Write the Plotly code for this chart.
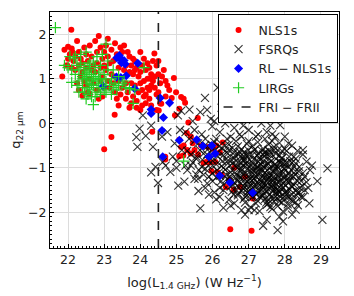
import plotly.graph_objects as go

# ---- data ----
nls1_points = [
    (21.84,1.05),(21.9,1.65),(21.95,1.3),(22.0,1.72),(22.05,1.55),(22.1,1.68),(22.15,1.4),(22.0,1.45),(22.1,1.25),(22.2,1.2),
    (22.09,2.1),(22.2,1.5),(21.98,1.3),(22.12,1.6),
    (22.25,1.85),(22.3,1.6),(22.35,1.45),(22.3,1.3),(22.4,1.15),(22.25,0.9),(22.3,0.75),(22.4,0.62),(22.45,1.7),(22.5,1.55),
    (22.55,1.4),(22.5,1.25),(22.6,1.0),(22.45,0.95),(22.55,0.7),(22.6,1.75),(22.35,1.05),(22.5,0.85),(22.6,0.65),(22.4,1.35),
    (22.65,1.5),(22.7,1.3),(22.75,1.15),(22.8,1.6),(22.85,1.96),(22.9,1.7),(22.95,1.45),(22.7,0.9),(22.8,0.75),(22.85,0.55),
    (22.9,1.25),(22.95,1.05),(23.0,0.8),(22.75,1.85),(23.0,1.6),(22.65,1.2),(22.9,0.95),(22.8,1.35),(23.0,1.3),(22.95,0.6),
    (23.05,1.75),(23.1,1.5),(23.15,1.35),(23.2,1.1),(23.25,0.9),(23.1,0.95),(23.3,0.7),(23.35,0.55),(23.2,1.65),(23.3,1.8),
    (23.35,1.55),(23.4,1.25),(23.05,1.2),(23.15,0.8),(23.4,0.95),(23.25,1.4),(23.3,1.05),(23.4,0.4),(23.29,0.19),(23.2,-0.31),
    (23.0,-0.58),(23.1,1.9),
    (23.45,1.7),(23.5,1.6),(23.55,1.2),(23.6,0.9),(23.65,0.7),(23.7,1.5),(23.75,1.3),(23.8,1.1),(23.5,0.8),(23.6,0.55),
    (23.7,0.35),(23.75,0.9),(23.8,0.6),(23.55,1.75),(23.65,1.6),(23.45,0.65),(23.8,1.45),(23.7,1.15),(23.6,1.3),(23.75,0.45),
    (23.85,1.4),(23.9,1.25),(23.95,1.05),(24.0,0.9),(24.05,0.75),(24.1,0.6),(24.15,0.45),(23.9,0.5),(24.0,0.3),(24.1,1.45),
    (24.15,1.2),(24.2,1.0),(23.85,0.85),(23.95,0.7),(24.05,1.3),(24.2,0.8),(24.0,1.6),(24.1,0.95),(24.2,1.35),(23.9,0.35),
    (24.15,0.65),(24.05,0.4),(23.85,1.2),(24.0,1.15),
    (24.25,1.25),(24.3,1.1),(24.35,0.95),(24.4,0.8),(24.45,0.65),(24.25,0.55),(24.3,0.4),(24.39,1.57),(24.45,1.3),(24.5,1.1),
    (24.55,0.9),(24.25,0.75),(24.35,1.4),(24.4,1.05),(24.5,0.7),(24.55,0.45),(24.3,0.85),(24.45,0.3),(24.33,-0.19),(24.5,1.4),
    (24.6,1.05),(24.28,1.0),
    (24.65,1.2),(24.7,0.95),(24.75,0.85),(24.87,0.57),(24.99,0.7),(24.93,1.02),(25.13,0.59),(25.24,0.46),(25.08,0.33),(24.96,0.18),
    (24.58,0.44),(24.51,0.29),(24.8,0.75),(24.7,0.6),(25.2,0.55),
    (25.59,0.12),(25.33,0.02),(25.08,-0.37),(25.29,-0.22),(25.13,-0.53),(25.2,-0.5),(25.39,-0.68),(25.5,-0.6),(25.68,-0.5),(25.87,-0.53),
    (26.0,-0.57),(26.1,-0.5),(26.28,-0.43),(25.08,-0.74),(25.19,-0.72),(24.69,-0.81),(24.69,-0.75),(25.75,-0.89),(25.82,-0.87),(25.93,-0.88),
    (26.08,-0.87),(25.97,-1.07),(26.14,-1.1),(26.26,-1.16),(26.37,-1.43),(26.46,-1.28),(26.58,-1.49),(26.76,-1.43),(27.11,-1.69),(26.49,-2.38),
    (27.08,-2.41),(25.45,-0.45),(25.6,-0.7),(25.3,-0.6),(26.2,-0.65),(25.4,-0.3),(26.6,-1.0),(26.9,-1.2),
]

fsrq_points = [
    (26.14,0.80),(25.79,0.57),(26.25,0.35),(25.66,0.25),(25.36,0.31),(25.13,0.28),(25.04,0.18),(26.56,0.51),(26.74,0.22),(26.33,0.37),
    (26.45,0.12),(26.9,0.18),(27.1,0.12),(26.05,0.05),(25.85,0.3),(26.6,0.28),
    (24.07,0.18),(23.98,-0.12),(24.3,-0.05),(23.89,-0.31),(24.15,-0.28),(24.35,-0.53),(23.92,-0.53),(24.42,-0.98),(24.49,-1.34),(24.62,-0.87),
    (24.83,-1.09),(25.22,-1.31),(25.61,-1.52),(25.66,-1.91),(26.1,-1.71),(26.53,-1.54),(27.0,-1.95),(27.16,-1.95),(27.5,-2.17),(27.8,-2.4),
    (27.85,-2.1),(28.36,-1.84),(28.68,-1.8),(29.04,-2.17),(29.18,-1.01),(27.87,-0.04),(27.74,-0.3),(27.26,-0.25),(26.93,0.08),(25.99,-0.07),
    (24.6,-0.3),(24.75,-0.2),(24.9,-0.75),(24.7,-0.95),(25.0,-1.0),(24.95,-0.45),(25.1,-0.15),(25.25,-0.2),(25.5,-0.15),(25.7,-0.25),
    (25.35,-0.35),(26.2,-0.2),(26.6,-0.1),(26.8,-0.3),(27.0,-0.15),(27.5,-0.2),(28.1,-0.45),(26.4,-0.35),(28.0,-0.3),(28.3,-0.9),
    (28.55,-1.2),(28.65,-1.45),(28.45,-1.65),(28.2,-2.05),(26.9,-2.05),(27.4,-2.3),(26.3,-1.9),(25.9,-1.6),(25.5,-1.25),(25.4,-0.95),
    (25.75,-1.15),(24.3,-1.1),(25.05,-1.4),(26.6,-1.8),(28.75,-0.95),(28.9,-1.3),(28.5,-0.6),(27.95,-2.2),(26.0,-1.3),(25.55,-0.8),
    (25.6,-0.45),(25.85,-0.52),(26.05,-0.42),(26.25,-0.55),(26.45,-0.48),(26.65,-0.4),(26.8,-0.58),(26.95,-0.46),(27.1,-0.52),(27.25,-0.42),
    (27.4,-0.57),(27.55,-0.47),(27.7,-0.53),(27.85,-0.44),(28.0,-0.58),(28.2,-0.5),(28.35,-0.62),
    (25.3,-0.62),(25.55,-0.75),(25.75,-0.68),(25.95,-0.8),(26.15,-0.66),(26.3,-0.72),(26.45,-0.6),(26.6,-0.78),(26.75,-0.64),(26.85,-0.74),
    (27.0,-0.7),(27.15,-0.6),(27.3,-0.77),(27.45,-0.65),(27.6,-0.72),(27.75,-0.68),(27.9,-0.79),(28.05,-0.62),(28.25,-0.75),(28.5,-0.7),
    (25.0,-0.85),(25.25,-0.95),(25.45,-0.88),(25.7,-0.98),(25.9,-0.84),(26.1,-0.92),(26.25,-0.96),(26.4,-0.86),(26.55,-0.9),(26.7,-0.99),
    (26.85,-0.83),(26.95,-0.94),(27.1,-0.88),(27.25,-0.97),(27.4,-0.85),(27.55,-0.91),(27.7,-0.95),(27.85,-0.87),(28.0,-0.93),(28.2,-0.89),
    (28.4,-0.98),(28.6,-0.86),
    (25.3,-1.05),(25.55,-1.15),(25.8,-1.02),(26.0,-1.12),(26.2,-1.18),(26.35,-1.04),(26.5,-1.1),(26.65,-1.16),(26.8,-1.01),(26.9,-1.13),
    (27.05,-1.07),(27.2,-1.19),(27.3,-1.03),(27.45,-1.11),(27.6,-1.17),(27.7,-1.06),(27.85,-1.14),(28.0,-1.02),(28.15,-1.19),(28.3,-1.08),
    (28.5,-1.12),(28.7,-1.05),
    (25.6,-1.25),(25.85,-1.35),(26.1,-1.22),(26.3,-1.38),(26.45,-1.27),(26.6,-1.33),(26.75,-1.21),(26.9,-1.36),(27.0,-1.28),(27.15,-1.24),
    (27.3,-1.39),(27.4,-1.3),(27.55,-1.23),(27.65,-1.37),(27.8,-1.26),(27.95,-1.34),(28.1,-1.29),(28.25,-1.38),(28.4,-1.22),(28.6,-1.32),
    (25.8,-1.45),(26.05,-1.55),(26.3,-1.5),(26.5,-1.42),(26.7,-1.58),(26.85,-1.47),(27.0,-1.53),(27.15,-1.41),(27.25,-1.57),(27.4,-1.46),
    (27.5,-1.52),(27.65,-1.44),(27.8,-1.59),(27.9,-1.48),(28.05,-1.54),(28.2,-1.43),(28.35,-1.56),(28.55,-1.5),
    (26.2,-1.65),(26.45,-1.72),(26.7,-1.62),(26.9,-1.78),(27.1,-1.66),(27.25,-1.74),(27.4,-1.63),(27.55,-1.79),(27.7,-1.68),(27.85,-1.75),
    (28.0,-1.64),(28.15,-1.71),(28.3,-1.77),(28.5,-1.66),
    (26.5,-1.85),(26.8,-1.95),(27.05,-1.88),(27.3,-1.97),(27.5,-1.83),(27.65,-1.92),(27.8,-1.86),(27.95,-1.98),(28.1,-1.9),(28.3,-1.94),
    (26.55,-0.55),(26.72,-0.7),(26.88,-0.65),(27.03,-0.82),(27.18,-0.58),(27.35,-0.92),(27.5,-0.68),(27.62,-0.85),(27.8,-0.6),(27.95,-0.9),
    (28.12,-0.75),(26.38,-0.8),(26.62,-0.95),(26.78,-1.08),(26.92,-0.9),(27.08,-1.15),(27.22,-1.0),(27.37,-1.2),(27.52,-1.05),(27.68,-1.28),
    (27.82,-1.0),(27.98,-1.22),(28.18,-1.05),(28.35,-1.3),(26.48,-1.2),(26.68,-1.4),(26.82,-1.25),(26.98,-1.45),(27.12,-1.32),(27.28,-1.5),
    (27.42,-1.36),(27.58,-1.6),(27.73,-1.42),(27.88,-1.65),(28.02,-1.4),(28.2,-1.6),(26.58,-1.6),(26.95,-1.62),(27.2,-1.8),(27.45,-1.7),
    (27.6,-1.88),(27.92,-1.78),(28.08,-1.82),(28.42,-1.45),(28.28,-1.15),(26.3,-1.0),(26.15,-0.75),(26.0,-0.95),(25.9,-1.2),(26.2,-1.45),
    (26.83,-0.78),(26.97,-1.02),(27.06,-0.95),(27.14,-1.25),(27.26,-0.86),(27.33,-1.12),(27.41,-0.98),(27.48,-1.38),(27.57,-0.8),(27.63,-1.18),
    (27.72,-0.92),(27.78,-1.48),(27.87,-1.1),(27.93,-0.78),(27.01,-1.35),(27.17,-1.55),(27.29,-1.27),(27.36,-1.62),(27.53,-1.25),(27.67,-1.52),
    (27.84,-1.32),(28.06,-1.18),(28.13,-1.48),(26.87,-1.42),(26.73,-1.18),(26.65,-0.85),(27.44,-0.75),(27.97,-1.02),(28.25,-0.98),(27.09,-0.72),
    (25.15,-0.6),(25.4,-0.7),(25.65,-0.6),(25.85,-0.7),(26.05,-0.62),(26.35,-0.5),(25.5,-0.4),(25.8,-0.35),(26.1,-0.35),(26.5,-0.3),
    (26.75,-0.25),(27.2,-0.3),(27.45,-0.35),(27.65,-0.25),(27.35,0.0),(26.35,0.0),(26.85,-0.05),(27.6,-0.05),(25.95,0.1),(25.45,0.05),
    (26.6,-0.65),(26.78,-0.88),(26.93,-0.72),(27.12,-1.05),(27.27,-0.68),(27.38,-1.05),(27.52,-0.9),(27.66,-1.08),(27.76,-0.8),(27.9,-1.25),
    (28.05,-0.88),(28.15,-1.3),(27.0,-1.18),(27.2,-1.4),(27.35,-1.48),(27.5,-1.15),(27.62,-1.42),(27.75,-1.58),(27.9,-1.4),(28.0,-1.55),
    (27.1,-1.48),(26.95,-1.3),(26.8,-1.52),(27.55,-1.72),(27.7,-1.75),(27.3,-1.65),(28.1,-1.65),(28.3,-1.5),(28.45,-1.3),(26.7,-1.3),
    (26.55,-1.05),(26.4,-1.25),(27.45,-1.22),(27.65,-1.3),(27.82,-1.2),(27.25,-1.12),(27.05,-1.6),(27.15,-0.8),(27.4,-0.7),(27.85,-0.72),
    (28.3,-0.8),(28.1,-1.12),(27.58,-1.0),(27.95,-1.12),(26.85,-1.15),(27.5,-1.45),(27.75,-1.35),(27.3,-0.95),(27.7,-0.6),(26.9,-1.65),
    (26.62,-0.72),(26.7,-0.52),(26.76,-1.0),(26.84,-0.95),(26.9,-0.82),(26.99,-0.6),(27.04,-1.25),(27.13,-0.98),(27.19,-1.12),(27.24,-1.32),
    (27.31,-0.82),(27.39,-1.4),(27.46,-0.95),(27.54,-1.33),(27.6,-0.65),(27.69,-1.2),(27.74,-1.02),(27.81,-1.52),(27.89,-0.88),(27.96,-1.45),
    (28.04,-1.28),(28.11,-0.98),(28.18,-1.4),(28.24,-1.2),(28.32,-1.62),(28.39,-1.08),(26.66,-1.5),(26.79,-1.35),(26.86,-1.7),(26.96,-1.55),
    (27.07,-1.4),(27.21,-1.6),(27.34,-1.3),(27.43,-1.58),(27.49,-1.78),(27.61,-1.65),(27.71,-1.48),(27.79,-1.68),(27.86,-1.55),(27.99,-1.7),
    (28.07,-1.58),(28.22,-1.75),(28.4,-1.55),(28.48,-1.4),(27.23,-0.72),(27.37,-0.62),(27.55,-0.6),(27.78,-0.95),(27.92,-0.62),(28.15,-0.85),
    (26.52,-0.82),(26.42,-0.68),(26.27,-0.85),(26.12,-1.05),(26.38,-1.15),(26.56,-1.38),(26.24,-1.3),(26.04,-0.8),(25.93,-0.65),(25.72,-0.82),
    (25.62,-1.05),(25.88,-0.95),(26.48,-0.95),(26.64,-1.22),(26.35,-0.62),(26.18,-0.52),(25.98,-0.48),(25.78,-0.5),(27.0,-0.4),(27.65,-0.4),
]

rl_nls1_points = [
    (23.35,1.47),(23.42,1.52),(23.46,1.44),(23.55,1.41),(23.58,1.33),(23.48,1.36),(23.93,1.35),(23.34,1.04),(23.46,1.03),(23.61,1.07),
    (22.97,0.83),(23.84,0.78),(24.3,0.31),(24.3,0.22),(24.55,0.57),(24.81,0.46),(24.64,0.13),(24.6,-0.16),(24.62,-0.75),(25.08,-0.38),
    (25.56,-0.37),(25.73,-0.51),(25.9,-0.75),(25.98,-0.5),(26.07,-0.68),(26.2,-1.18),(26.48,-1.33),(27.11,-1.56),
]

lirg_points = [
    (21.65,2.15),(21.9,1.3),(22.0,1.25),(22.05,1.5),(22.1,0.92),(22.15,1.45),(22.2,1.1),(22.25,0.85),(22.3,1.2),(22.3,0.95),
    (22.35,1.35),(22.4,0.8),(22.4,1.05),(22.45,1.25),(22.45,0.7),(22.5,1.0),(22.5,1.15),(22.5,0.9),(22.55,1.3),(22.55,0.8),
    (22.55,1.05),(22.6,1.2),(22.6,0.95),(22.6,0.75),(22.65,1.1),(22.65,0.6),(22.7,0.42),(22.7,1.0),(22.7,0.85),(22.75,1.25),
    (22.75,1.05),(22.8,0.7),(22.8,0.95),(22.85,1.15),(22.85,0.8),(22.9,1.3),(22.9,1.0),(22.95,0.9),(23.0,1.1),(23.0,0.75),
    (23.05,1.78),(23.05,0.95),(23.1,1.2),(23.15,0.85),(23.2,1.0),(23.25,0.8),(23.3,0.9),(23.35,0.75),(23.4,0.85),(23.5,0.9),
    (23.6,0.8),(23.7,0.78),(23.8,0.45),(23.85,0.75),(24.1,1.25),(25.2,-0.85),(22.2,1.5),(22.35,1.55),(22.5,1.6),(22.7,1.4),
    (22.95,1.55),(23.1,1.4),(23.25,1.2),(22.25,1.3),(22.4,1.0),(22.6,1.35),(22.8,1.5),(22.1,1.2),(22.3,0.7),(22.5,0.55),
    (22.75,0.6),(22.9,0.65),(23.05,0.7),(22.65,0.88),(22.45,1.1),(22.85,1.0),(22.55,0.65),(23.2,0.65),(23.4,1.05),(23.55,0.95),
]

fri_frii_x = [24.5, 24.5]
fri_frii_y = [-2.8, 2.5]

x_tick_vals = [22, 23, 24, 25, 26, 27, 28, 29]
y_tick_vals = [-2, -1, 0, 1, 2]

def split(points):
    return [p[0] for p in points], [p[1] for p in points]

fig = go.Figure()
nx, ny = split(nls1_points)
fig.add_trace(go.Scatter(x=nx, y=ny, mode="markers", name="NLS1s",
                         marker=dict(symbol="circle", size=6, color="#ff0000", line=dict(width=0))))
fx, fy = split(fsrq_points)
fig.add_trace(go.Scatter(x=fx, y=fy, mode="markers", name="FSRQs",
                         marker=dict(symbol="x-thin", size=8, color="rgba(0,0,0,0.8)",
                                     line=dict(width=1.1, color="rgba(0,0,0,0.8)"))))
bx, by = split(rl_nls1_points)
fig.add_trace(go.Scatter(x=bx, y=by, mode="markers", name="RL − NLS1s",
                         marker=dict(symbol="diamond", size=7, color="#0000ff", line=dict(width=0))))
gx, gy = split(lirg_points)
fig.add_trace(go.Scatter(x=gx, y=gy, mode="markers", name="LIRGs",
                         marker=dict(symbol="cross-thin", size=8, color="#22cc22",
                                     line=dict(width=1.2, color="#22cc22"))))
fig.add_trace(go.Scatter(x=fri_frii_x, y=fri_frii_y, mode="lines", name="FRI − FRII",
                         line=dict(color="#222222", width=1.6, dash="dash")))

axis_common = dict(showgrid=True, gridcolor="#dcdcdc", gridwidth=1, zeroline=False,
                   showline=True, linecolor="black", linewidth=1, mirror=True,
                   ticks="inside", ticklen=4, tickcolor="black", automargin=False,
                   tickfont=dict(size=12.5, color="#222222"))

fig.update_xaxes(range=[21.5, 29.5], tickvals=x_tick_vals,
                 title=dict(text="log(L<sub>1.4 GHz</sub>) (W Hz<sup>−1</sup>)", font=dict(size=13, color="#222222"), standoff=11),
                 minor=dict(ticks="inside", ticklen=2, dtick=0.1, tickcolor="black", showgrid=False),
                 **axis_common)
fig.update_yaxes(range=[-2.8, 2.5], tickvals=y_tick_vals,
                 title=dict(text="q<sub>22 μm</sub>", font=dict(size=13, color="#222222"), standoff=6),
                 minor=dict(ticks="inside", ticklen=2, dtick=0.1, tickcolor="black", showgrid=False),
                 **axis_common)

# the page body adds an 8 px margin, so the figure is sized to sit inside the window
fig.update_layout(
    width=346, height=288,
    margin=dict(l=42, r=15, t=4, b=48, autoexpand=False),
    paper_bgcolor="white", plot_bgcolor="white",
    font=dict(family="DejaVu Sans", size=12.5, color="#222222"),
    legend=dict(x=0.995, xanchor="right", y=0.99, yanchor="top", bgcolor="white",
                bordercolor="black", borderwidth=1, font=dict(size=12.5), itemsizing="trace",
                itemwidth=30, tracegroupgap=0),
    showlegend=True,
)

fig.write_html("out.html")
